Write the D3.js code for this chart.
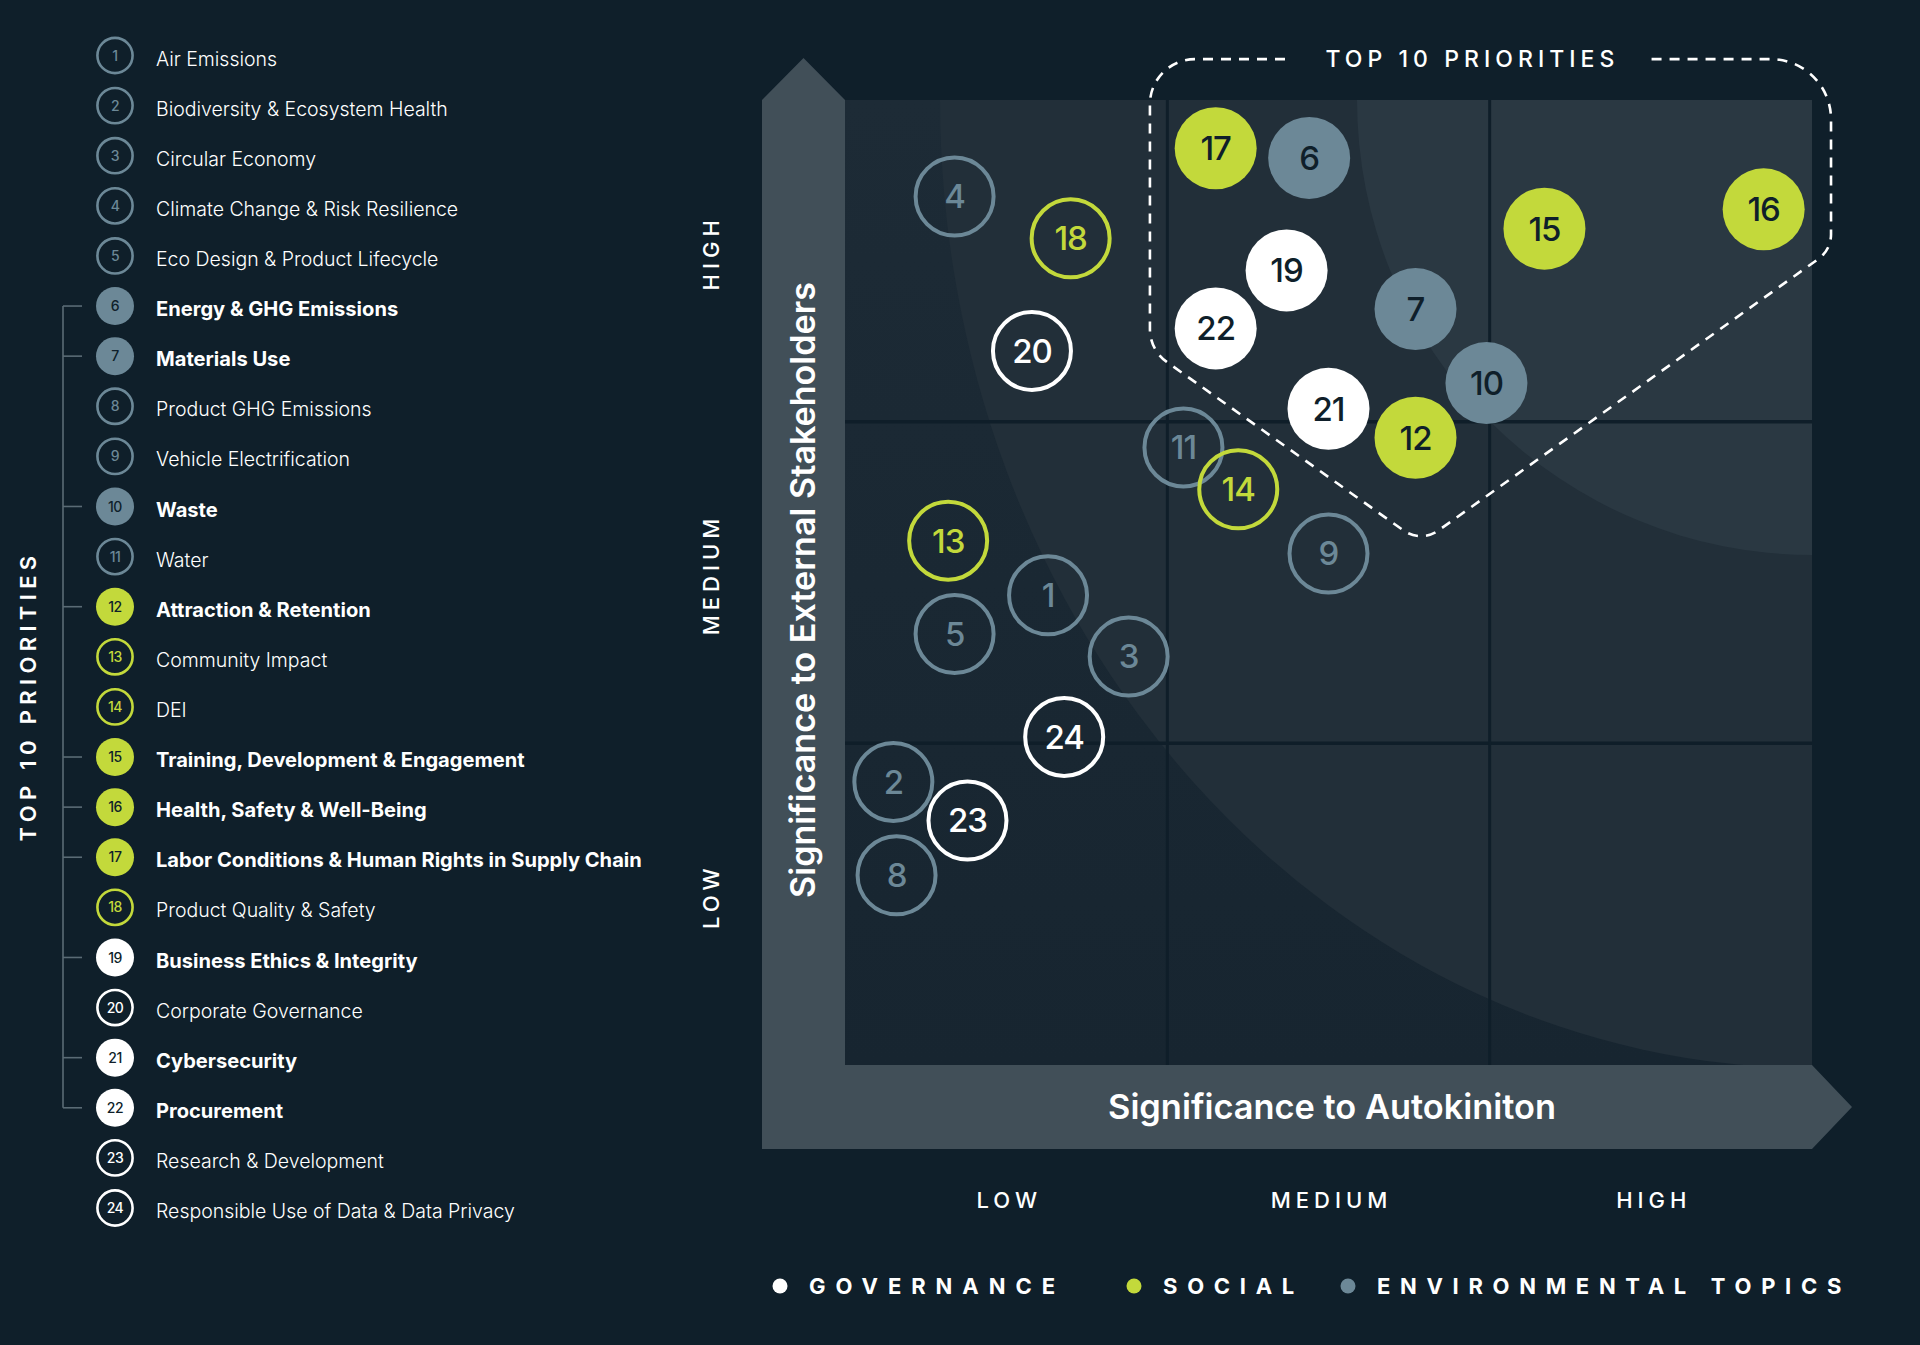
<!DOCTYPE html>
<html>
<head>
<meta charset="utf-8">
<script src="https://cdn.jsdelivr.net/npm/d3@7"></script>
<style>
html,body{margin:0;padding:0;background:#0f1f2a;}
svg{display:block;}
text{font-family:Inter,"Open Sans","Noto Sans",sans-serif;}
</style>
</head>
<body>
<svg id="chart" width="1920" height="1345"></svg>
<script>
// ---------------- DATA ----------------
const topicIds = [1,2,3,4,5,6,7,8,9,10,11,12,13,14,15,16,17,18,19,20,21,22,23,24];
const topicNames = [
  "Air Emissions","Biodiversity & Ecosystem Health","Circular Economy",
  "Climate Change & Risk Resilience","Eco Design & Product Lifecycle",
  "Energy & GHG Emissions","Materials Use","Product GHG Emissions",
  "Vehicle Electrification","Waste","Water","Attraction & Retention",
  "Community Impact","DEI","Training, Development & Engagement",
  "Health, Safety & Well-Being","Labor Conditions & Human Rights in Supply Chain",
  "Product Quality & Safety","Business Ethics & Integrity","Corporate Governance",
  "Cybersecurity","Procurement","Research & Development",
  "Responsible Use of Data & Data Privacy"
];
const topicGroups = [
  "env","env","env","env","env","env","env","env","env","env","env",
  "soc","soc","soc","soc","soc","soc","soc",
  "gov","gov","gov","gov","gov","gov"
];
// significance to Autokiniton (x) and to external stakeholders (y), 0..3 scale
const autokinitonSignificance = [0.63,0.15,0.88,0.34,0.34,1.44,1.77,0.16,1.50,1.99,1.05,1.77,0.32,1.22,2.17,2.85,1.15,0.70,1.37,0.58,1.50,1.15,0.38,0.68];
const stakeholderSignificance = [1.46,0.88,1.27,2.70,1.34,2.82,2.35,0.59,1.59,2.12,1.92,1.95,1.63,1.79,2.60,2.66,2.85,2.57,2.47,2.22,2.04,2.29,0.76,1.02];
const top10Ids = [6,7,10,12,15,16,17,19,21,22];
const levelLabels = ["LOW","MEDIUM","HIGH"];
const groupKeys = ["gov","soc","env"];
const groupLabels = ["GOVERNANCE","SOCIAL","ENVIRONMENTAL TOPICS"];
// outline of the "top 10 priorities" zone, in chart units (x, y)
const top10Outline = [[1.365,3.127],[0.946,3.127],[0.946,2.223],[1.787,1.623],[3.059,2.534],[3.059,3.127],[2.497,3.127]];
const top10OutlineRadii = [0,45,40,30,30,60,0];

// ---------------- STYLE ----------------
const C = {
  bg:"#0f1f2a", band:"#414f58", plotTop:"#1d2b36", plotBottom:"#172530",
  outer:"#222f39", inner:"#2a3842", grid:"#0f1e29",
  env:"#6c8897", soc:"#c3d93b", gov:"#ffffff", dark:"#0f1f2a", bracket:"#5a6b75"
};
const groupColor = g => C[g];

const svg = d3.select("#chart");
svg.append("rect").attr("width",1920).attr("height",1345).attr("fill",C.bg);

const P = {left:845, right:1812, top:100, bottom:1065};
const x = d3.scaleLinear().domain([0,3]).range([P.left,P.right]);
const y = d3.scaleLinear().domain([0,3]).range([P.bottom,P.top]);
const xBand = d3.scaleBand().domain(levelLabels).range([P.left,P.right]);
const yBand = d3.scaleBand().domain(levelLabels.slice().reverse()).range([P.top,P.bottom]);

const defs = svg.append("defs");
const lg = defs.append("linearGradient").attr("id","plotGrad").attr("x1",0).attr("y1",0).attr("x2",0).attr("y2",1);
lg.append("stop").attr("offset",0).attr("stop-color",C.plotTop);
lg.append("stop").attr("offset",1).attr("stop-color",C.plotBottom);
defs.append("clipPath").attr("id","plotClip").append("rect")
  .attr("x",P.left).attr("y",P.top).attr("width",P.right-P.left).attr("height",P.bottom-P.top);

// axis bands (arrows)
const bandW = 83;
svg.append("path").attr("fill",C.band).attr("d",
  `M${P.left-bandW},${P.bottom+84} L${P.left-bandW},${P.top} L${P.left-bandW/2},${P.top-42} L${P.left},${P.top} L${P.left},${P.bottom} L${P.right},${P.bottom} L${P.right+40},${P.bottom+42} L${P.right},${P.bottom+84} Z`);

// plot background
const plot = svg.append("g").attr("clip-path","url(#plotClip)");
plot.append("rect").attr("x",P.left).attr("y",P.top).attr("width",P.right-P.left).attr("height",P.bottom-P.top).attr("fill","url(#plotGrad)");
plot.append("ellipse").attr("cx",P.right).attr("cy",P.top).attr("rx",872).attr("ry",968).attr("fill",C.outer);
plot.append("circle").attr("cx",P.right).attr("cy",P.top).attr("r",455).attr("fill",C.inner);

// grid lines
[1,2].forEach(v=>{
  plot.append("line").attr("x1",x(v)).attr("x2",x(v)).attr("y1",P.top).attr("y2",P.bottom).attr("stroke",C.grid).attr("stroke-width",3);
  plot.append("line").attr("y1",y(v)).attr("y2",y(v)).attr("x1",P.left).attr("x2",P.right).attr("stroke",C.grid).attr("stroke-width",3.5);
});

// helpers to fit text widths
function fitSize(sel,target){const n=sel.node();const L=n.getComputedTextLength();const fs=parseFloat(sel.attr("font-size"));sel.attr("font-size",fs*target/L);}
function fitSpacing(sel,target){const n=sel.node();const L=n.getComputedTextLength();const ls=parseFloat(sel.attr("letter-spacing")||0);const k=sel.text().length;sel.attr("letter-spacing",ls+(target-L)/k);}

// top-10 dashed outline
const pts = top10Outline.map(d=>[x(d[0]),y(d[1])]);
const pth = d3.path();
pth.moveTo(pts[0][0],pts[0][1]);
for(let i=1;i<pts.length-1;i++){pth.arcTo(pts[i][0],pts[i][1],pts[i+1][0],pts[i+1][1],top10OutlineRadii[i]);}
pth.lineTo(pts[pts.length-1][0],pts[pts.length-1][1]);
svg.append("path").attr("d",pth.toString()).attr("fill","none").attr("stroke","#ffffff")
  .attr("stroke-width",2.6).attr("stroke-dasharray","10,8");
const tt = svg.append("text").attr("x",(pts[0][0]+pts[pts.length-1][0])/2+5).attr("y",pts[0][1]).attr("dy","0.36em")
  .attr("text-anchor","middle").attr("fill","#fff").attr("font-size",23).attr("font-weight",500)
  .attr("letter-spacing",5).text("TOP 10 PRIORITIES");
fitSpacing(tt,294);

// bubbles
const topics = topicIds.map((id,i)=>({id,name:topicNames[i],group:topicGroups[i],
  xv:autokinitonSignificance[i],yv:stakeholderSignificance[i],top:top10Ids.includes(id)}));
const bub = svg.append("g").selectAll("g").data(topics).join("g")
  .attr("transform",d=>`translate(${x(d.xv)},${y(d.yv)})`);
bub.append("circle")
  .attr("r",d=>d.top?41:39)
  .attr("fill",d=>d.top?groupColor(d.group):"none")
  .attr("stroke",d=>d.top?"none":groupColor(d.group))
  .attr("stroke-width",4);
bub.append("text").attr("text-anchor","middle").attr("dy","0.36em")
  .attr("font-size",33).attr("font-weight",500).attr("letter-spacing",-1)
  .attr("fill",d=>d.top?C.dark:groupColor(d.group)).text(d=>d.id);

// axis titles
const yt = svg.append("text").attr("transform",`translate(${P.left-bandW/2},590) rotate(-90)`)
  .attr("text-anchor","middle").attr("dy","0.35em").attr("fill","#fff").attr("font-size",30).attr("font-weight",600)
  .text("Significance to External Stakeholders");
fitSize(yt,616);
const xt = svg.append("text").attr("x",1332).attr("y",P.bottom+42).attr("dy","0.35em")
  .attr("text-anchor","middle").attr("fill","#fff").attr("font-size",30).attr("font-weight",600)
  .text("Significance to Autokiniton");
fitSize(xt,448);

// x tick labels via axis
const xAxis = svg.append("g").attr("transform",`translate(3,1200)`)
  .call(d3.axisBottom(xBand).tickSize(0).tickPadding(0));
xAxis.select(".domain").remove();
xAxis.selectAll("text").attr("fill","#fff").attr("font-size",22).attr("font-weight",500)
  .attr("letter-spacing",5).attr("dy","0.35em").attr("y",0)
  .style("font-family","Inter, sans-serif");
// y tick labels
svg.append("g").selectAll("text").data(levelLabels).join("text")
  .attr("transform",d=>`translate(711,${yBand(d)+yBand.bandwidth()/2-8}) rotate(-90)`)
  .attr("text-anchor","middle").attr("dy","0.35em").attr("fill","#fff")
  .attr("font-size",22).attr("font-weight",500).attr("letter-spacing",5).text(d=>d);

// left legend
const rowY = d3.scalePoint().domain(topicIds).range([55.5,1208]);
const leg = svg.append("g");
// bracket
const topRows = top10Ids.map(id=>rowY(id));
leg.append("line").attr("x1",63).attr("x2",63).attr("y1",d3.min(topRows)).attr("y2",d3.max(topRows))
  .attr("stroke",C.bracket).attr("stroke-width",1.6);
leg.selectAll("line.tick").data(top10Ids).join("line").attr("class","tick")
  .attr("x1",63).attr("x2",82).attr("y1",d=>rowY(d)).attr("y2",d=>rowY(d))
  .attr("stroke",C.bracket).attr("stroke-width",1.6);
const lrow = leg.selectAll("g.row").data(topics).join("g").attr("class","row")
  .attr("transform",d=>`translate(0,${rowY(d.id)})`);
lrow.append("circle").attr("cx",115).attr("r",d=>d.top?19:17.6)
  .attr("fill",d=>d.top?groupColor(d.group):"none")
  .attr("stroke",d=>d.top?"none":groupColor(d.group)).attr("stroke-width",2.6);
lrow.append("text").attr("x",115).attr("text-anchor","middle").attr("dy","0.36em")
  .attr("font-size",14).attr("font-weight",500).attr("letter-spacing",-0.5)
  .attr("fill",d=>d.top?C.dark:groupColor(d.group)).text(d=>d.id);
const labels = lrow.append("text").attr("x",156).attr("y",3).attr("dy","0.36em").attr("fill","#fff")
  .attr("font-size",19).attr("font-weight",d=>d.top?700:300).text(d=>d.name);
// fit sizes from the longest items
(function(){
  const bold = labels.filter(d=>d.id===17), light = labels.filter(d=>d.id===24);
  const fb = 19*486/bold.node().getComputedTextLength();
  const fl = 19*359/light.node().getComputedTextLength();
  labels.attr("font-size",d=>d.top?fb:fl);
})();
const vt = svg.append("text").attr("transform","translate(28,696) rotate(-90)")
  .attr("text-anchor","middle").attr("dy","0.35em").attr("fill","#fff")
  .attr("font-size",22).attr("font-weight",600).attr("letter-spacing",5).text("TOP 10 PRIORITIES");
fitSpacing(vt,291);

// bottom legend
const legX = [780,1134,1348];
const legW = [247,132,465];
const bl = svg.append("g").selectAll("g").data(groupKeys).join("g")
  .attr("transform",(d,i)=>`translate(${legX[i]},1286)`);
bl.append("circle").attr("r",7.5).attr("fill",d=>groupColor(d));
bl.append("text").attr("x",29).attr("dy","0.36em").attr("fill","#fff")
  .attr("font-size",22).attr("font-weight",700).attr("letter-spacing",9)
  .text((d,i)=>groupLabels[i])
  .each(function(d,i){fitSpacing(d3.select(this),legW[i]+9);});
</script>
</body>
</html>
